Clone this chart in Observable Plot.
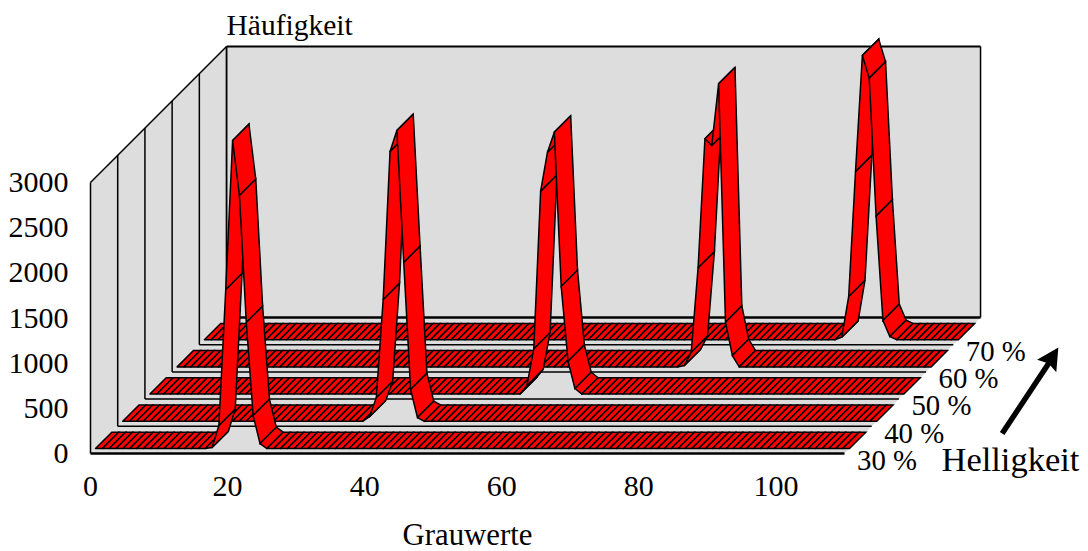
<!DOCTYPE html>
<html><head><meta charset="utf-8">
<script src="https://cdn.jsdelivr.net/npm/d3@7"></script>
<script src="https://cdn.jsdelivr.net/npm/@observablehq/plot@0.6"></script>
<style>html,body{margin:0;padding:0;background:#fff;overflow:hidden}svg{display:block}</style>
</head><body><div id="chart"></div>
<script>
// Data
const brightness = ["30 %", "40 %", "50 %", "60 %", "70 %"];
const xTicks = [0, 20, 40, 60, 80, 100];
const yTicks = [0, 500, 1000, 1500, 2000, 2500, 3000];
const grayMax = 110;
const peakStart = [16, 35, 54, 73, 92];
const peak30 = [0, 10, 255, 1760, 3410, 2800, 1395, 365, 55, 0];
const peak40 = [0, 50, 263, 1349, 2988, 3220, 1758, 352, 42, 0];
const peak50 = [0, 95, 502, 2247, 2678, 2900, 1191, 364, 62, 0];
const peak60 = [0, 15, 163, 1097, 2526, 2452, 3135, 495, 126, 0];
const peak70 = [0, 28, 478, 1863, 3147, 2896, 1368, 213, 35, 0];
const peaks = [peak30, peak40, peak50, peak60, peak70];

// Oblique 3D projection in data units: one brightness slot shifts right and up
const slotX = 3.97, slotY = 301.1;
const ribbonFront = 0.184, ribbonBack = 0.784;
const sx = (g, d) => g + d * slotX;
const sy = (v, d) => v + d * slotY;
const pt = (g, v, d) => ({x: sx(g, d), y: sy(v, d)});
const depths = d3.range(brightness.length + 1);

const valueAt = (k, g) => {
  const i = g - peakStart[k];
  return i >= 0 && i < peaks[k].length ? peaks[k][i] : 0;
};

// Quads, painted back to front then left to right
const quads = [];
for (let k = brightness.length - 1; k >= 0; --k) {
  const f = k + ribbonFront, b = k + ribbonBack;
  for (let g = 0; g < grayMax; ++g) {
    const v0 = valueAt(k, g), v1 = valueAt(k, g + 1), z = `${k}-${g}`;
    [pt(g, v0, f), pt(g + 1, v1, f), pt(g + 1, v1, b), pt(g, v0, b), pt(g, v0, f)]
      .forEach(p => quads.push({...p, z}));
  }
}

const floor = [pt(0,0,0), pt(grayMax,0,0), pt(grayMax,0,5), pt(0,0,5), pt(0,0,0)];
const backWall = [pt(0,0,5), pt(grayMax,0,5), pt(grayMax,3000,5), pt(0,3000,5), pt(0,0,5)];
const sideWall = [pt(0,0,0), pt(0,0,5), pt(0,3000,5), pt(0,3000,0), pt(0,0,0)];
const wallGray = "#dddddd";

const gridFloor = depths.map(d => ({a: pt(0,0,d), b: pt(grayMax,0,d), w: d === 0 || d === 5 ? 2.4 : 1.5}));
const gridWall = depths.map(d => ({a: pt(0,0,d), b: pt(0,3000,d), w: d === 5 ? 1.8 : 1.5}));
const frame = [
  {a: pt(0,3000,0), b: pt(0,3000,5), w: 1.5},
  {a: pt(0,3000,5), b: pt(grayMax,3000,5), w: 1.8},
  {a: pt(grayMax,3000,5), b: pt(grayMax,0,5), w: 1.5}
];
const links = [...gridFloor, ...gridWall, ...frame];

// "Helligkeit" arrow, in the chart's own units
const arrowShaft = [{x1: 133.0, y1: 221, x2: 139.9, y2: 1010}];
const arrowHead = [
  {x: 141.2, y: 1173}, {x: 138.1, y: 1037}, {x: 139.8, y: 996},
  {x: 140.9, y: 900}, {x: 141.2, y: 1173}
];
const font = "Liberation Serif";

document.getElementById("chart").append(Plot.plot({
  width: 1088, height: 551,
  margin: 0,
  style: {background: "#fff", fontFamily: font},
  x: {domain: [-13.13, 145.6], range: [0, 1088], axis: null},
  y: {domain: [-1085, 5015], range: [551, 0], axis: null},
  marks: [
    Plot.line(backWall, {x: "x", y: "y", fill: wallGray, stroke: "none"}),
    Plot.line(sideWall, {x: "x", y: "y", fill: wallGray, stroke: "none"}),
    Plot.line(floor, {x: "x", y: "y", fill: wallGray, stroke: "none"}),
    Plot.link(links, {x1: d => d.a.x, y1: d => d.a.y, x2: d => d.b.x, y2: d => d.b.y,
      stroke: "#000", strokeWidth: "w"}),
    Plot.line(quads, {x: "x", y: "y", z: "z", fill: "#ff0000", stroke: "#000",
      strokeWidth: 1.5, strokeLinejoin: "miter", strokeMiterlimit: 3}),
    Plot.text(xTicks, {x: d => d, y: () => 0, dy: 33, text: d => String(d),
      fontSize: 30, fill: "#000"}),
    Plot.text(yTicks, {x: () => 0, y: d => d, dx: -22, text: d => String(d), textAnchor: "end",
      fontSize: 30, fill: "#000"}),
    Plot.text(brightness, {x: (d, i) => sx(grayMax, i), y: (d, i) => sy(0, i), dx: 12.5, dy: 7,
      text: d => d, textAnchor: "start", fontSize: 28.8, fill: "#000"}),
    Plot.text(["Häufigkeit"], {x: () => sx(0, 5), y: () => 3000 + 5 * slotY, dy: -21, text: d => d,
      textAnchor: "start", fontSize: 29.5, fill: "#000"}),
    Plot.text(["Grauwerte"], {x: () => 55, y: () => 0, dy: 82, text: d => d,
      fontSize: 30.8, fill: "#000"}),
    Plot.text(["Helligkeit"], {x: () => 124.15, y: () => 0, dy: 6, text: d => d,
      textAnchor: "start", fontSize: 34.5, fill: "#000"}),
    Plot.link(arrowShaft, {x1: "x1", y1: "y1", x2: "x2", y2: "y2", stroke: "#000", strokeWidth: 5.5}),
    Plot.line(arrowHead, {x: "x", y: "y", fill: "#000", stroke: "none"})
  ]
}));
</script></body></html>
